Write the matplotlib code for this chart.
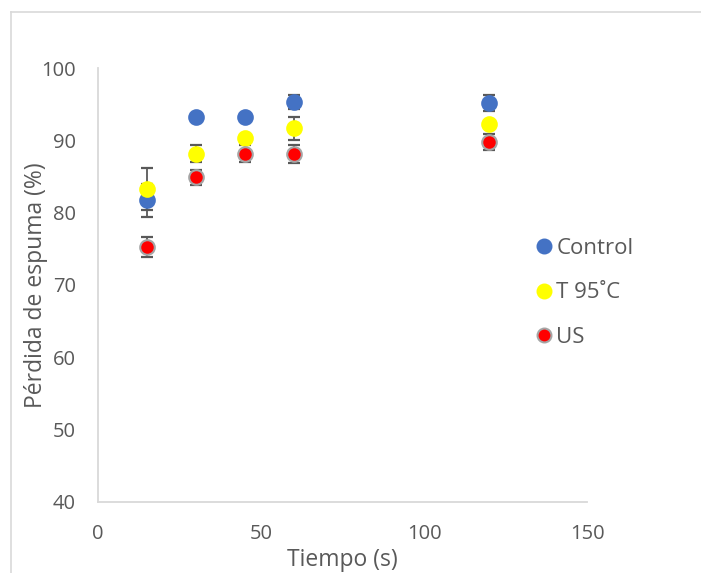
import numpy as np
import matplotlib.pyplot as plt
from matplotlib.lines import Line2D

plt.rcParams['font.family'] = ['Open Sans', 'DejaVu Sans']

# tiempo (s)
tiempo = [15, 30, 45, 60, 120]

# perdida de espuma (%) y desviaciones
control = [81.7, 93.3, 93.3, 95.3, 95.2]
control_err = [2.35, 0.3, 0.3, 1.0, 1.05]
t95 = [83.3, 88.2, 90.3, 91.7, 92.3]
t95_err = [2.95, 1.2, 0.3, 1.6, 0.3]
us = [75.3, 84.9, 88.2, 88.2, 89.8]
us_err = [1.4, 1.0, 1.2, 1.25, 1.07]

txt = '#595959'
fig = plt.figure(figsize=(7.01, 5.73), dpi=100)
ax = fig.add_axes([98/701, 1-501.7/573, (587-98)/701, (501.7-68.3)/573])

series = [
    (control, control_err, '#4472C4', '#4472C4', 'Control'),
    (t95, t95_err, '#FFFF00', '#FFFF00', 'T 95\u02daC'),
    (us, us_err, '#FF0000', '#A5A5A5', 'US'),
]
handles = []
for vals, err, fc, ec, lab in series:
    ax.errorbar(tiempo, vals, yerr=err, fmt='none', ecolor=txt, elinewidth=1.3,
                capsize=4, capthick=1.6, zorder=2)
    ax.plot(tiempo, vals, 'o', ms=10.5, mfc=fc, mec=ec, mew=1.5, zorder=3)
    handles.append(Line2D([], [], marker='o', ls='none', ms=10, mfc=fc, mec=ec, mew=1.5, label=lab))

ax.set_xlim(0, 150)
ax.set_ylim(40, 100)
ax.set_xticks([0, 50, 100, 150])
ax.set_yticks(range(40, 101, 10))
ax.tick_params(length=0, labelsize=14.5, labelcolor=txt)
ax.tick_params(axis='y', pad=16)
ax.tick_params(axis='x', pad=16)
for s in ['top', 'right']:
    ax.spines[s].set_visible(False)
for s in ['left', 'bottom']:
    ax.spines[s].set_color('#D9D9D9')
    ax.spines[s].set_linewidth(1.3)

ax.set_xlabel('Tiempo (s)', fontsize=16.5, color=txt, labelpad=3)
ax.set_ylabel('Pérdida de espuma (%)', fontsize=16.5, color=txt, labelpad=-5)

fig.legend(handles=handles, loc='center left', bbox_to_anchor=(522/701, 1-293/573),
           frameon=False, fontsize=16, labelcolor=txt, handletextpad=0.05,
           labelspacing=1.05, handlelength=1.0, borderpad=0)

# marco del grafico
fig.add_artist(Line2D([11/701, 11/701], [0, 1-12/573], color='#D9D9D9', lw=1.2))
fig.add_artist(Line2D([11/701, 1], [1-12/573, 1-12/573], color='#D9D9D9', lw=1.2))

fig.savefig('out.png', dpi=100)
